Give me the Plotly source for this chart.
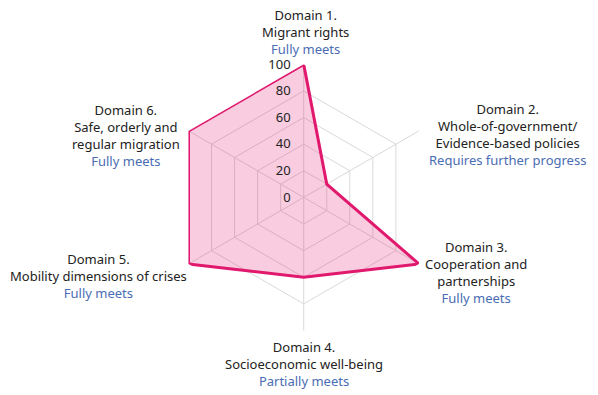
import plotly.graph_objects as go

domains = ["Domain 1.<br>Migrant rights",
           "Domain 2.<br>Whole-of-government/<br>Evidence-based policies",
           "Domain 3.<br>Cooperation and<br>partnerships",
           "Domain 4.<br>Socioeconomic well-being",
           "Domain 5.<br>Mobility dimensions of crises",
           "Domain 6.<br>Safe, orderly and<br>regular migration"]
status = ["Fully meets", "Requires further progress", "Fully meets",
          "Partially meets", "Fully meets", "Fully meets"]
scores = [100, 20, 100, 60, 100, 100]
radial_ticks = [0, 20, 40, 60, 80, 100]

# label block centres in pixels (layout only)
W, H = 598, 395
label_px = [(297, 24), (499, 127), (468, 264), (296, 356), (90, 268), (118, 128)]

fig = go.Figure()
fig.add_trace(go.Scatterpolar(
    r=scores + scores[:1],
    theta=domains + domains[:1],
    mode="lines",
    fill="toself",
    fillcolor="rgba(228,28,110,0.22)",
    line=dict(color="#e0196e", width=3),
    hoverinfo="none",
))

annotations = []
for d, s, (px, py) in zip(domains, status, label_px):
    annotations.append(dict(
        text=d + "<br><span style='color:#4a6db3'>" + s + "</span>",
        x=px / W, y=1 - py / H, xref="paper", yref="paper",
        xanchor="center", yanchor="middle", align="center",
        showarrow=False, font=dict(size=13, color="#222222")))

fig.update_layout(
    width=W, height=H,
    margin=dict(l=0, r=0, t=0, b=0),
    paper_bgcolor="white",
    showlegend=False,
    font=dict(family="Noto Sans", size=13, color="#222222"),
    annotations=annotations,
    polar=dict(
        domain=dict(x=[0.272, 0.717], y=[0.183, 0.858]),
        bgcolor="white",
        gridshape="linear",
        angularaxis=dict(rotation=90, direction="clockwise",
                         showline=False, gridcolor="#d9d9d9",
                         showticklabels=False, ticks=""),
        radialaxis=dict(range=[0, 100], tickvals=radial_ticks,
                        showline=False, gridcolor="#d9d9d9",
                        angle=90, tickangle=90,
                        ticks="outside", ticklen=8,
                        tickcolor="rgba(0,0,0,0)",
                        side="counterclockwise",
                        tickfont=dict(size=13, color="#222222")),
    ),
)

fig.write_html("out.html")
